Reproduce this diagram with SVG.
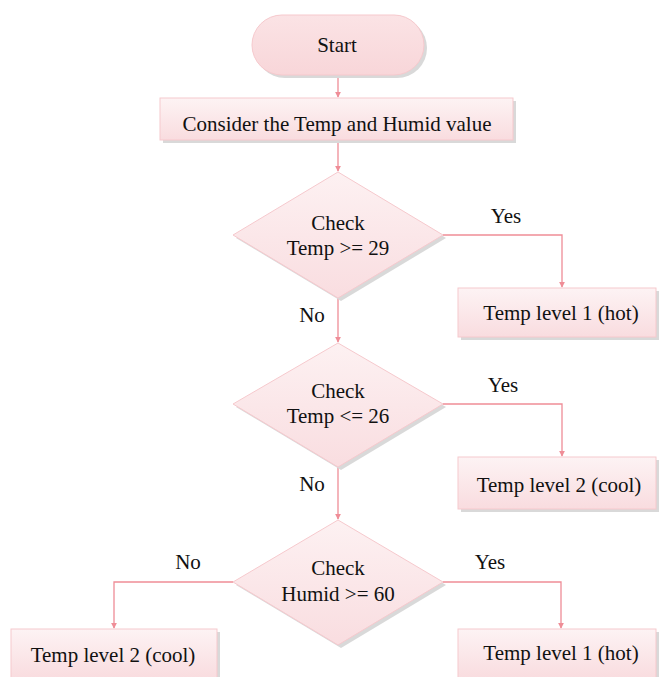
<svg xmlns="http://www.w3.org/2000/svg" width="659" height="677" viewBox="0 0 659 677">
  <style>
    .lbl { font-family: "Liberation Serif", "Times New Roman", serif; font-size: 21px; fill: #111; text-anchor: middle; }
    .shape { stroke: #f6c9cd; stroke-width: 1; }
    .box { fill: url(#boxFill); }
    .dia { fill: url(#diaFill); }
    .shadow { fill: #d9d9d9; }
    .edge { fill: none; stroke: #ef8d97; stroke-width: 1.3; }
  </style>
  <defs>
    <linearGradient id="boxFill" x1="0" y1="0" x2="0" y2="1">
      <stop offset="0" stop-color="#fdf3f4"/>
      <stop offset="1" stop-color="#f9dcdf"/>
    </linearGradient>
    <linearGradient id="diaFill" x1="0" y1="0" x2="0" y2="1">
      <stop offset="0" stop-color="#fdf1f2"/>
      <stop offset="1" stop-color="#f9dde0"/>
    </linearGradient>
    <linearGradient id="pillFill" x1="0" y1="0" x2="0" y2="1">
      <stop offset="0" stop-color="#fbe3e5"/>
      <stop offset="1" stop-color="#f8d6d9"/>
    </linearGradient>
    <marker id="arrow" viewBox="0 0 8 8" refX="7" refY="4" markerWidth="6" markerHeight="6" orient="auto" markerUnits="userSpaceOnUse">
      <path d="M0,0 L8,4 L0,8 z" fill="#ef8d97"/>
    </marker>
  </defs>

  <rect width="659" height="677" fill="#ffffff"/>

  <!-- connectors and branch labels -->
  <g id="connectors">
    <path class="edge" d="M338,75 V97" marker-end="url(#arrow)"/>
    <path class="edge" d="M338,140 V171" marker-end="url(#arrow)"/>
    <path class="edge" d="M443,235 H562 V287" marker-end="url(#arrow)"/>
    <path class="edge" d="M338,298 V342" marker-end="url(#arrow)"/>
    <path class="edge" d="M443,404 H562 V456" marker-end="url(#arrow)"/>
    <path class="edge" d="M338,467 V519" marker-end="url(#arrow)"/>
    <path class="edge" d="M233,582 H114 V628" marker-end="url(#arrow)"/>
    <path class="edge" d="M443,582 H561 V628" marker-end="url(#arrow)"/>
    <text class="lbl" x="506" y="223">Yes</text>
    <text class="lbl" x="312" y="322">No</text>
    <text class="lbl" x="503" y="392">Yes</text>
    <text class="lbl" x="312" y="491">No</text>
    <text class="lbl" x="188" y="569">No</text>
    <text class="lbl" x="490" y="569">Yes</text>
  </g>

  <g id="start">
    <rect class="shadow" x="255" y="18" width="172" height="60" rx="30"/>
    <rect class="shape" x="252" y="15" width="172" height="60" rx="30" fill="url(#pillFill)"/>
    <text class="lbl" x="337" y="52">Start</text>
  </g>

  <g id="consider">
    <rect class="shadow" x="163" y="101" width="353" height="42"/>
    <rect class="shape box" x="160" y="98" width="353" height="42"/>
    <text class="lbl" x="337" y="131">Consider the Temp and Humid value</text>
  </g>

  <g id="check-temp-hot">
    <polygon class="shadow" points="341,175 446,238 341,301 236,238"/>
    <polygon class="shape dia" points="338,172 443,235 338,298 233,235"/>
    <text class="lbl" x="338" y="230">Check</text>
    <text class="lbl" x="338" y="255">Temp &gt;= 29</text>
  </g>

  <g id="level1-hot-a">
    <rect class="shadow" x="461" y="291" width="198" height="49"/>
    <rect class="shape box" x="458" y="288" width="198" height="49"/>
    <text class="lbl" x="561" y="320">Temp level 1 (hot)</text>
  </g>

  <g id="check-temp-cool">
    <polygon class="shadow" points="341,346 446,407 341,470 236,407"/>
    <polygon class="shape dia" points="338,343 443,404 338,467 233,404"/>
    <text class="lbl" x="338" y="398">Check</text>
    <text class="lbl" x="338" y="423">Temp &lt;= 26</text>
  </g>

  <g id="level2-cool-a">
    <rect class="shadow" x="461" y="460" width="198" height="52"/>
    <rect class="shape box" x="458" y="457" width="198" height="52"/>
    <text class="lbl" x="559" y="492">Temp level 2 (cool)</text>
  </g>

  <g id="check-humid">
    <polygon class="shadow" points="341,523 446,585 341,648 236,585"/>
    <polygon class="shape dia" points="338,520 443,582 338,645 233,582"/>
    <text class="lbl" x="338" y="575">Check</text>
    <text class="lbl" x="338" y="601">Humid &gt;= 60</text>
  </g>

  <g id="level2-cool-b">
    <rect class="shadow" x="14" y="632" width="206" height="50"/>
    <rect class="shape box" x="11" y="629" width="206" height="50"/>
    <text class="lbl" x="113" y="662">Temp level 2 (cool)</text>
  </g>

  <g id="level1-hot-b">
    <rect class="shadow" x="461" y="632" width="198" height="50"/>
    <rect class="shape box" x="458" y="629" width="198" height="50"/>
    <text class="lbl" x="561" y="660">Temp level 1 (hot)</text>
  </g>
</svg>
